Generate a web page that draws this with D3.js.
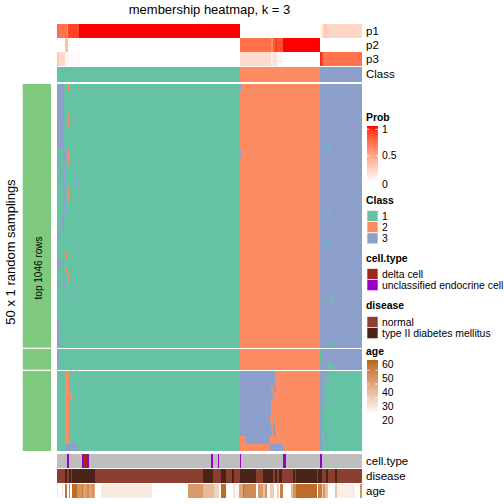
<!DOCTYPE html>
<html><head><meta charset="utf-8">
<script src="https://cdn.jsdelivr.net/npm/d3@7"></script>
<style>body{margin:0;background:#fff} text{font-family:"Liberation Sans",Arial,Helvetica,sans-serif}</style>
</head><body><svg id="c" width="504" height="504"></svg>
<script>
// ---------- data ----------
const classNames = ["1", "2", "3"];
const classCounts = [183, 80, 42];           // samples per consensus class (column order)
const classColors = ["#66C2A5", "#FC8D62", "#8DA0CB"];
const sliceRows = [36, 3, 11];               // 50 random samplings split in 3 row slices
const sliceLabel = "top 1046 rows";

// membership probabilities: [fromCol, toCol, prob]
const p1Runs = [[0,2,0.75],[2,10,0.7],[10,11,0.6],[11,22,0.88],[22,183,1],
                [263,265,0.05],[265,267,0.2],[267,270,0.3],[270,305,0.22]];
const p2Runs = [[8,9,0.3],[9,11,0.35],
                [183,214,0.72],[214,216,0.6],[216,218,0.8],[218,220,0.9],[220,226,0.85],[226,263,1]];
const p3Runs = [[0,2,0.3],[2,8,0.2],[8,11,0.05],[11,22,0.03],
                [183,214,0.2],[214,216,0.1],[216,220,0.15],[220,226,0.05],
                [263,265,0.95],[265,267,0.8],[267,270,0.7],[270,305,0.72]];

// class calls of individual samplings that differ from the consensus:
// [rowFrom, rowTo, colFrom, colTo, class]
const sampleCalls = [
  [0,4,0,7,3],[5,8,0,2,3],[5,8,3,7,3],
  [0,0,10,12,2],[4,5,10,12,2],[9,10,10,12,2],[14,15,10,12,2],
  [9,9,7,10,3],[10,10,0,2,3],[12,12,3,5,3],[13,13,20,22,3],[9,17,7,8,3],
  [18,19,5,7,3],[20,20,0,2,3],[23,23,8,10,2],[24,24,0,2,3],[24,24,3,5,3],
  [25,25,8,10,2],[26,26,10,12,2],[27,27,0,2,3],[27,27,7,8,3],
  [32,35,0,2,3],[32,35,12,13,3],[0,0,183,184,3],[9,9,183,184,3],
  [8,8,271,273,1],[17,17,272,274,1],[21,21,270,272,1],[29,29,273,275,1],[35,35,275,276,1],
  [36,37,0,2,3],[38,38,12,13,3],[36,37,263,264,1],[38,38,271,276,1],
  [39,48,8,12,2],[42,42,13,15,2],[49,49,8,20,3],
  [39,40,183,218,3],[41,41,183,214,3],[41,41,216,219,3],[42,42,183,216,3],
  [43,44,183,214,3],[45,45,183,213,3],[46,46,183,214,3],[46,46,216,218,3],
  [47,47,183,215,3],[47,47,216,219,3],[48,48,188,213,3],[49,49,213,226,3],
  [39,49,263,305,1],
  [39,39,263,270,3],[40,40,263,267,3],[40,40,269,270,3],[41,42,263,266,3],
  [43,43,263,265,3],[43,43,266,268,3],[44,48,263,265,3],[44,47,268,269,3],
  [48,48,268,270,3],[49,49,263,266,3]
];

// sample annotations
const cellTypes = ["delta cell", "unclassified endocrine cell"];
const cellTypeColors = ["#9E2A1C", "#9B00C8"];
const cellTypeNA = "#BEBEBE";
const cellTypeRuns = [[10,12,1],[25,27,1],[27,30,0],[30,32,1],[154,156,1],[161,162,1],
                      [183,184,1],[226,229,1],[263,265,1]];
const diseases = ["normal", "type II diabetes mellitus"];
const diseaseColors = ["#8B3F31", "#4A2418"];
const diseaseT2DRuns = [[8,10],[12,14],[15,38],[146,156],[164,169],[175,177],[183,199],
                        [206,216],[218,220],[222,225],[236,238],[239,260],[261,265],
                        [269,271],[278,280]];
const ageRuns = [[0,2,26],[5,6,30],[8,10,58],[12,13,55],[15,20,60],[20,25,50],[25,26,56],
                 [26,30,47],[30,32,52],[32,35,46],[35,37,50],[37,38,45],[38,44,23],[44,95,28],
                 [131,146,48],[146,157,40],[157,162,34],[164,169,60],[176,178,30],[178,182,25],
                 [182,186,45],[186,187,58],[187,199,52],[201,206,48],[206,208,38],[208,210,50],
                 [213,217,35],[220,222,35],[223,226,55],[234,236,40],[236,239,50],[239,260,60],
                 [261,265,55],[265,266,35],[266,268,50],[268,271,38],[278,280,38],[280,298,27],
                 [303,305,50]];
const ageTicks = [20, 30, 40, 50, 60];
const probTicks = [0, 0.5, 1];

// ---------- drawing ----------
const svg = d3.select("#c");
const N = d3.sum(classCounts);
const x = d3.scaleLinear().domain([0, N]).range([57, 362]);
const probColor = d3.scaleLinear().domain([0, 1]).range(["#FFFFFF", "#FF0000"]).interpolate(d3.interpolateLab);
const ageColor = d3.scaleLinear().domain([23, 62]).range(["#FFFFFF", "#B8651B"]).interpolate(d3.interpolateLab).clamp(true);
const classColor = d3.scaleOrdinal().domain([1,2,3]).range(classColors);

const colClass = [];
classCounts.forEach((n, i) => { for (let k = 0; k < n; k++) colClass.push(i + 1); });

function runs(arr) {
  const out = []; let s = 0;
  for (let i = 1; i <= arr.length; i++) {
    if (i === arr.length || arr[i] !== arr[s]) { out.push([s, i, arr[s]]); s = i; }
  }
  return out;
}
function fromRuns(list, def) {
  const a = new Array(N).fill(def);
  list.forEach(r => { for (let c = r[0]; c < r[1]; c++) a[c] = r[2]; });
  return a;
}
function drawTrack(y, h, values, colorFn) {
  const g = svg.append("g").attr("shape-rendering", "crispEdges");
  g.selectAll("rect").data(runs(values).filter(r => r[2] !== null)).join("rect")
    .attr("x", d => x(d[0])).attr("width", d => x(d[1]) - x(d[0]))
    .attr("y", y).attr("height", h).attr("fill", d => colorFn(d[2]));
}

// title
svg.append("text").attr("x", 209.5).attr("y", 14).attr("text-anchor", "middle")
  .attr("font-size", 13).text("membership heatmap, k = 3");

// top annotations
const topRows = [
  {name: "p1", y: 24, h: 13.6, vals: fromRuns(p1Runs, 0), col: probColor},
  {name: "p2", y: 38, h: 13.6, vals: fromRuns(p2Runs, 0), col: probColor},
  {name: "p3", y: 52, h: 14, vals: fromRuns(p3Runs, 0), col: probColor},
  {name: "Class", y: 67, h: 14.6, vals: colClass.slice(), col: classColor}
];
topRows.forEach(t => {
  drawTrack(t.y, t.h, t.vals, t.col);
  svg.append("text").attr("x", 366).attr("y", t.y + t.h / 2).attr("dy", "0.35em")
    .attr("font-size", 11.5).text(t.name);
});

// main heatmap
const sliceTop = [84, 349, 371], sliceBottom = [347.7, 369.7, 451];
let rowStart = 0;
const rowY = [];
sliceRows.forEach((n, s) => {
  const ys = d3.scaleLinear().domain([rowStart, rowStart + n]).range([sliceTop[s], sliceBottom[s]]);
  for (let r = rowStart; r < rowStart + n; r++) rowY.push([ys(r), ys(r + 1) - ys(r)]);
  svg.append("rect").attr("x", 22.7).attr("width", 28.3).attr("y", sliceTop[s])
    .attr("height", sliceBottom[s] - sliceTop[s]).attr("fill", "#7FC97F");
  rowStart += n;
});
const nRows = d3.sum(sliceRows);
for (let r = 0; r < nRows; r++) {
  const row = colClass.slice();
  sampleCalls.forEach(e => {
    if (r >= e[0] && r <= e[1]) for (let c = e[2]; c < e[3]; c++) row[c] = e[4];
  });
  drawTrack(rowY[r][0], rowY[r][1], row, classColor);
}

svg.append("text").attr("transform", "translate(10,252) rotate(-90)")
  .attr("text-anchor", "middle").attr("dy", "0.35em").attr("font-size", 13)
  .text("50 x 1 random samplings");
svg.append("text").attr("transform", "translate(38.5,268) rotate(-90)")
  .attr("text-anchor", "middle").attr("dy", "0.35em").attr("font-size", 10)
  .text(sliceLabel);

// bottom annotations
const ctVals = fromRuns(cellTypeRuns, -1);
const disVals = fromRuns(diseaseT2DRuns.map(r => [r[0], r[1], 1]), 0);
const ageVals = fromRuns(ageRuns, null);
const bottomRows = [
  {name: "cell.type", y: 453.7, h: 14, vals: ctVals, col: v => v < 0 ? cellTypeNA : cellTypeColors[v]},
  {name: "disease", y: 469, h: 14, vals: disVals, col: v => diseaseColors[v]},
  {name: "age", y: 484.3, h: 13.7, vals: ageVals, col: v => ageColor(v)}
];
bottomRows.forEach(t => {
  drawTrack(t.y, t.h, t.vals, t.col);
  svg.append("text").attr("x", 366).attr("y", t.y + t.h / 2).attr("dy", "0.35em")
    .attr("font-size", 11.5).text(t.name);
});

// ---------- legends ----------
const lx = 367, fs = 10.4;
function title(y, s) {
  svg.append("text").attr("x", lx - 1).attr("y", y).attr("font-size", fs).attr("font-weight", "bold").text(s);
}
function gradient(id, y0, y1, colorFn, domain, ticks, tickY) {
  const defs = svg.append("defs");
  const lg = defs.append("linearGradient").attr("id", id).attr("x1", 0).attr("x2", 0).attr("y1", 1).attr("y2", 0);
  d3.range(0, 1.001, 0.1).forEach(t => {
    lg.append("stop").attr("offset", t).attr("stop-color", colorFn(domain[0] + t * (domain[1] - domain[0])));
  });
  svg.append("rect").attr("x", lx).attr("y", y0).attr("width", 11).attr("height", y1 - y0).attr("fill", `url(#${id})`);
  ticks.forEach(v => {
    const ty = tickY(v);
    if (ty > y0 + 1 && ty < y1 - 1) {
      svg.append("line").attr("x1", lx).attr("x2", lx + 2.5).attr("y1", ty).attr("y2", ty).attr("stroke", "#fff").attr("stroke-width", 0.8);
      svg.append("line").attr("x1", lx + 8.5).attr("x2", lx + 11).attr("y1", ty).attr("y2", ty).attr("stroke", "#fff").attr("stroke-width", 0.8);
    }
  });
}
function boxes(y0, labels, colors) {
  labels.forEach((l, i) => {
    const y = y0 + i * 11.2;
    svg.append("rect").attr("x", lx).attr("y", y).attr("width", 11).attr("height", 11)
      .attr("fill", colors[i]).attr("stroke", "#fff").attr("stroke-width", 0.6);
    svg.append("text").attr("x", lx + 15).attr("y", y + 5.5).attr("dy", "0.35em").attr("font-size", fs).text(l);
  });
}

title(120.7, "Prob");
const probY = d3.scaleLinear().domain([0, 1]).range([182, 129.3]);
gradient("gProb", 126, 182, probColor, [0, 1], probTicks, probY);
probTicks.forEach(v => svg.append("text").attr("x", lx + 15).attr("y", probY(v) + (v === 0 ? 2 : 0))
  .attr("dy", "0.35em").attr("font-size", fs).text(v));

title(204, "Class");
boxes(210.5, classNames, classColors);

title(262, "cell.type");
boxes(268.5, cellTypes, cellTypeColors);

title(309, "disease");
boxes(316.5, diseases, diseaseColors);

title(355, "age");
const ageY = d3.scaleLinear().domain([20, 60]).range([420.5, 364.8]);
gradient("gAge", 360, 415, ageColor, [23, 62], ageTicks, v => ageY(v) + 5.3);
ageTicks.forEach(v => svg.append("text").attr("x", lx + 15).attr("y", ageY(v))
  .attr("dy", "0.35em").attr("font-size", fs).text(v));
</script></body></html>
